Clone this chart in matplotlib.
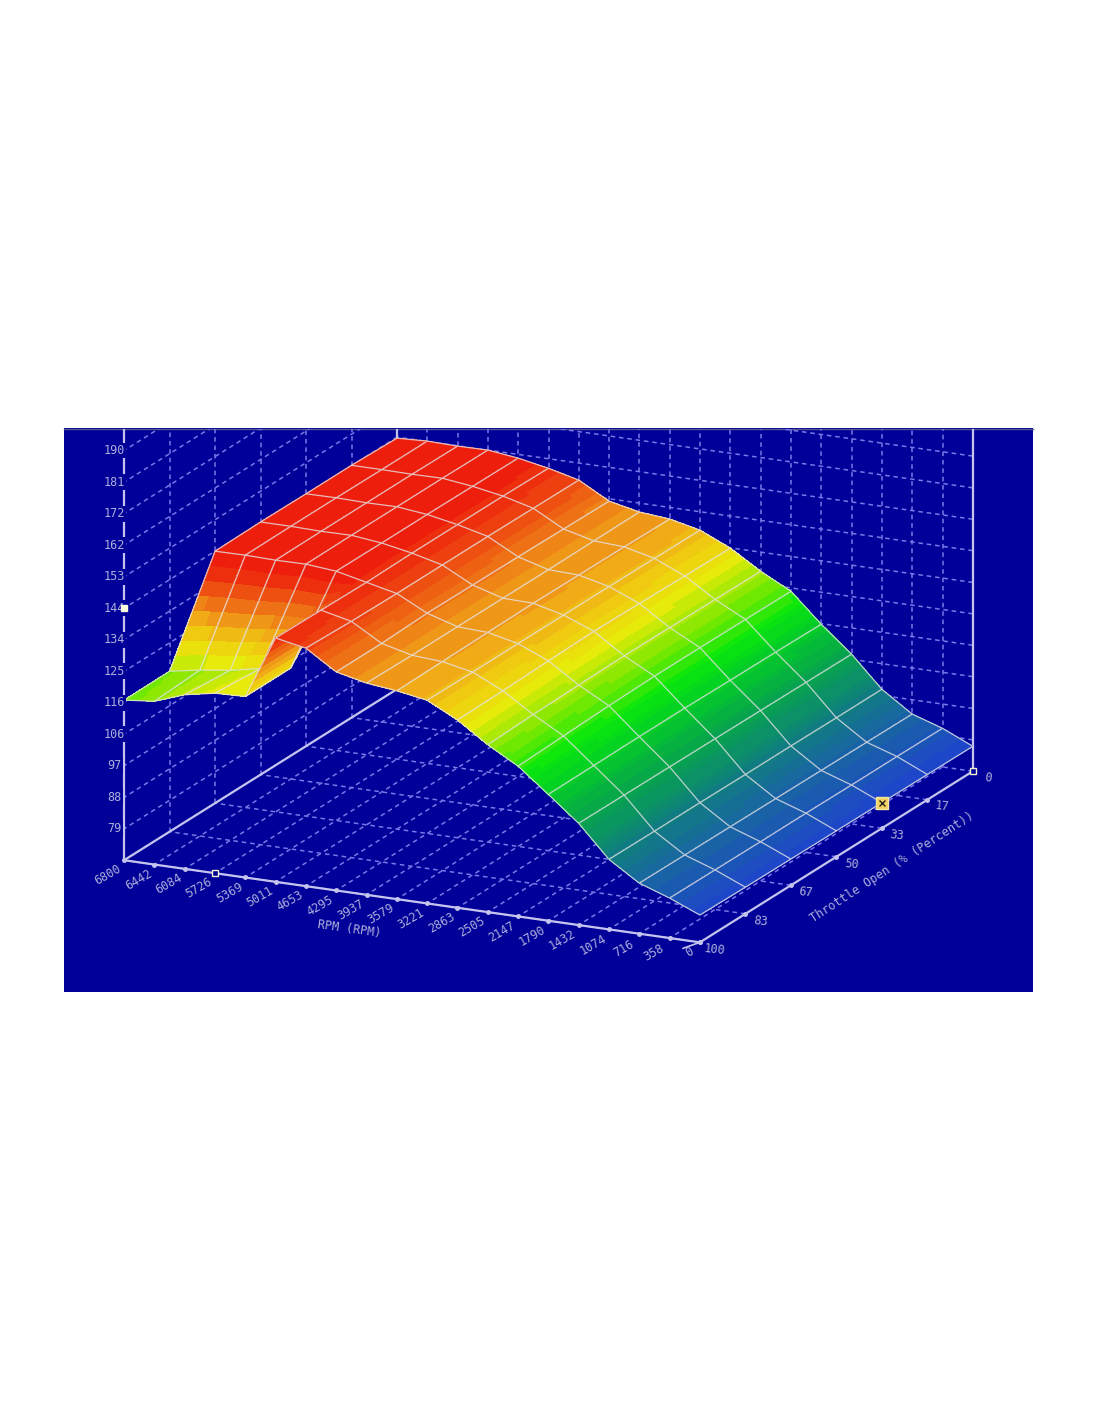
import numpy as np
import matplotlib
matplotlib.use("Agg")
import matplotlib.pyplot as plt
from matplotlib.colors import LinearSegmentedColormap, Normalize
from matplotlib.lines import Line2D
from matplotlib.patches import Rectangle
from matplotlib.transforms import Bbox, TransformedBbox
from mpl_toolkits.mplot3d import proj3d

# ---------------------------------------------
# Data
# ---------------------------------------------
rpm = [0, 358, 716, 1074, 1432, 1790, 2147, 2505, 2863, 3221,
       3579, 3937, 4295, 4653, 5011, 5369, 5726, 6084, 6442, 6800]
throttle = [0, 16.67, 33.33, 50, 66.67, 83.33, 100]

# tick positions and what is printed on them
z_ticks = [79.2, 88.4, 97.7, 106.9, 116.1, 125.3, 134.6, 143.8, 153, 162.3, 171.5, 180.7, 190]
z_labels = ["79", "88", "97", "106", "116", "125", "134", "144", "153", "162", "172", "181", "190"]

# one list per throttle column, running from 0 rpm up to 6800 rpm
thr_0 = [77.3, 81.3, 84.2, 90.2, 99.2, 106.7, 115.1, 119.7, 125.2, 129.2,
         131.2, 132.0, 133.9, 138.8, 141.0, 142.7, 143.8, 143.7, 143.9, 143.5]
thr_17 = [77.4, 81.4, 84.3, 90.2, 99.3, 106.9, 115.2, 119.8, 125.4, 129.3,
          131.4, 131.9, 134.1, 138.9, 141.2, 142.8, 143.9, 143.8, 143.9, 143.9]
thr_33 = [77.5, 81.4, 84.4, 90.3, 99.4, 107.0, 115.3, 119.9, 125.7, 129.4,
          131.5, 131.8, 134.3, 139.0, 141.2, 142.9, 143.9, 143.8, 144.0, 143.9]
thr_50 = [77.6, 81.5, 84.5, 90.3, 99.5, 107.2, 115.3, 120.0, 125.9, 129.4,
          131.6, 131.8, 134.4, 139.0, 141.2, 142.9, 143.9, 143.8, 144.0, 144.0]
thr_67 = [77.7, 81.5, 84.6, 90.4, 99.6, 107.2, 115.0, 119.8, 125.6, 129.4,
          131.4, 131.8, 134.5, 139.0, 141.0, 143.0, 143.8, 143.7, 143.9, 143.8]
thr_83 = [77.8, 81.6, 84.7, 90.4, 99.7, 107.1, 114.5, 119.5, 125.2, 129.4,
          131.2, 131.8, 134.0, 139.2, 141.2, 123.0, 121.6, 119.8, 118.6, 117.0]
thr_100 = [78.0, 81.7, 84.8, 90.5, 99.8, 107.0, 114.0, 119.0, 125.0, 129.5,
           131.0, 132.0, 134.0, 139.7, 141.4, 123.0, 122.7, 121.0, 117.8, 116.9]

power = np.array([thr_0, thr_17, thr_33, thr_50, thr_67, thr_83, thr_100]).T

# ---------------------------------------------
# Figure, panel and view
# ---------------------------------------------
W, H = 1100, 1422
navy = "#01019A"
grid_col = "#7878E8"
axis_col = "#C4C4EE"
text_col = "#AEAEDC"
mesh_col = "#E6E3E6"
mono = "DejaVu Sans Mono"

fig = plt.figure(figsize=(W / 100, H / 100), dpi=100, facecolor="white")
fig.add_artist(Rectangle((64 / W, 1 - 992 / H), 969 / W, 564 / H, transform=fig.transFigure,
                         facecolor=navy, edgecolor="none", zorder=-5))
fig.add_artist(Line2D([64 / W, 1033 / W], [1 - 428.5 / H] * 2, color="#55558F", lw=1, zorder=-4))
panel = TransformedBbox(Bbox([[64 / W, 1 - 992 / H], [1033 / W, 1 - 429 / H]]), fig.transFigure)

ax = fig.add_axes([-16.4 / W, 262.5 / H, 1, W / H], projection="3d", computed_zorder=False)
ax.set_proj_type("ortho")
ax.view_init(elev=17.4, azim=115.5, roll=0)
ax.set_xlim(0, 6800)
ax.set_ylim(0, 100)
ax.set_zlim(70, 199.5)
ax.set_box_aspect((638, 634, 463.4), zoom=0.8929)
ax.set_axis_off()
ax.patch.set_visible(False)


def line3d(xs, ys, zs, **kw):
    art = ax.plot(xs, ys, zs, **kw)[0]
    art.set_clip_box(panel)
    return art


# ---------------------------------------------
# Walls and floor
# ---------------------------------------------
dash = dict(color=grid_col, lw=1.1, ls=(0, (3, 2.5)), zorder=1)
z_low, z_top = 70, 199.5
for x in rpm[1:]:
    line3d([x, x], [0, 100], [z_low, z_low], **dash)
    line3d([x, x], [0, 0], [z_low, z_top], **dash)
for y in throttle[1:]:
    line3d([0, 6800], [y, y], [z_low, z_low], **dash)
    line3d([6800, 6800], [y, y], [z_low, z_top], **dash)
line3d([0, 6800], [0, 0], [z_low, z_low], **dash)
for z in z_ticks:
    line3d([6800, 6800], [0, 100], [z, z], **dash)
    line3d([0, 6800], [0, 0], [z, z], **dash)

solid = dict(color=axis_col, lw=1.6, zorder=2)
line3d([0, 6800], [100, 100], [z_low, z_low], **solid)
line3d([0, 0], [0, 100], [z_low, z_low], **solid)
line3d([6800, 6800], [0, 100], [z_low, z_low], **solid)
line3d([6800, 6800], [100, 100], [z_low, z_top], **solid)
line3d([6800, 6800], [0, 0], [z_low, z_top], **solid)
line3d([0, 0], [0, 0], [z_low, z_top], **solid)
line3d(rpm, [100] * len(rpm), [z_low] * len(rpm), color=axis_col, ls="none", marker="o", ms=2.5, zorder=2)
line3d([0] * len(throttle), throttle, [z_low] * len(throttle), color=axis_col, ls="none", marker="o", ms=2.5, zorder=2)

# ---------------------------------------------
# Surface, far strip first so near strips cover it
# ---------------------------------------------
stops = [(77, "#1E46C8"), (85, "#176A9C"), (92, "#0C8870"), (100, "#06A848"), (107, "#04D024"),
         (112, "#0AE80C"), (118, "#86E800"), (123, "#E6EB0A"), (127, "#F0D010"), (131, "#F0A818"),
         (136, "#EE6A14"), (143, "#EE1E0C")]
norm = Normalize(77, 143)
band_map = LinearSegmentedColormap.from_list("bands", [(norm(v), c) for v, c in stops], N=44)

X, Y = np.meshgrid(rpm, throttle, indexing="ij")
n_sub = 8
s = np.linspace(0, 1, n_sub + 1)
t_pos = np.arange(len(throttle))
t_fine = np.linspace(0, len(throttle) - 1, (len(throttle) - 1) * n_sub + 1)

for i in range(len(rpm) - 2, -1, -1):
    # finer facets only carry the colour shading inside a cell, the mesh itself is the data
    col_a = np.interp(t_fine, t_pos, power[i])
    col_b = np.interp(t_fine, t_pos, power[i + 1])
    y_fine = np.interp(t_fine, t_pos, throttle)
    xf = np.outer(rpm[i] + s * (rpm[i + 1] - rpm[i]), np.ones_like(t_fine))
    yf = np.outer(np.ones_like(s), y_fine)
    zf = np.outer(1 - s, col_a) + np.outer(s, col_b)
    zo = 3 + 2 * (len(rpm) - i)
    surf = ax.plot_surface(xf, yf, zf, facecolors=band_map(norm(zf)), rstride=1, cstride=1,
                           shade=False, linewidth=0, antialiased=False, zorder=zo)
    surf.set_clip_box(panel)
    wire = ax.plot_wireframe(X[i:i + 2], Y[i:i + 2], power[i:i + 2], rstride=1, cstride=1,
                             color=mesh_col, linewidth=0.9, alpha=0.8, zorder=zo + 1)
    wire.set_clip_box(panel)

# cursor markers
top = 90
line3d([0], [33.33], [power[0, 2]], color="black", marker="s", ms=9, mfc="#F2D060", mec="#F2E8A0", mew=1, zorder=top)
line3d([0], [33.33], [power[0, 2]], color="#222222", marker="x", ms=4, mew=1, zorder=top + 1)
line3d([0], [0], [z_low], marker="s", ms=4, mfc=navy, mec="#F0F0D0", mew=1, zorder=top)
line3d([5726], [100], [z_low], marker="s", ms=4, mfc=navy, mec="#F0F0D0", mew=1, zorder=top)

# ---------------------------------------------
# Text
# ---------------------------------------------
proj = ax.get_proj()


def label(x, y, z, txt, dx, dy, **kw):
    px, py, _ = proj3d.proj_transform(x, y, z, proj)
    ax.annotate(txt, xy=(px, py), xycoords="data", xytext=(dx, dy), textcoords="offset pixels",
                color=text_col, family=mono, fontsize=8.5, ha="center", va="center",
                rotation_mode="anchor", zorder=top + 5, **kw)


for x, txt in zip(rpm, rpm):
    if x == 0:
        label(x, 100, z_low, str(txt), -10, -10, rotation=30)
    else:
        label(x, 100, z_low, str(txt), -16, -15, rotation=30)
for y in throttle:
    label(0, y, z_low, f"{y:.0f}", 15, -7, rotation=-6)
for z, txt in zip(z_ticks, z_labels):
    label(6800, 100, z, txt, -10, 0, bbox=dict(facecolor=navy, edgecolor="none", pad=1.0))
line3d([6800], [100], [143.8], marker="s", ms=4, mfc="#FBFBE0", mec="#FBFBE0", zorder=top + 8)
label(0, 100, z_low, "", -17, -6, arrowprops=dict(arrowstyle="-", color=axis_col, lw=1.2, shrinkA=0, shrinkB=0))

fig.text(349 / W, 1 - 929 / H, "RPM (RPM)", color=text_col, family=mono, fontsize=8.5,
         rotation=-8, ha="center", va="center", rotation_mode="anchor")
fig.text(892 / W, 1 - 867 / H, "Throttle Open (% (Percent))", color=text_col, family=mono, fontsize=8.5,
         rotation=33, ha="center", va="center", rotation_mode="anchor")

fig.savefig("out.png", dpi=100, facecolor="white")
